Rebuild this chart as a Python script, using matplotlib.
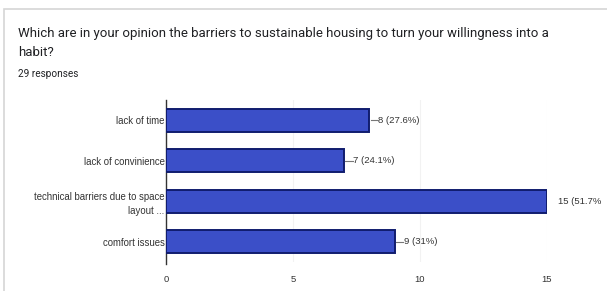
import matplotlib.pyplot as plt
from matplotlib.patches import Rectangle

# survey answers
categories = ["lack of time", "lack of convinience",
              "technical barriers due to space\nlayout ...", "comfort issues"]
counts = [8, 7, 15, 9]
labels = ["8 (27.6%)", "7 (24.1%)", "15 (51.7%", "9 (31%)"]
xticks = [0, 5, 10, 15]

title = "Which are in your opinion the barriers to sustainable housing to turn your willingness into a\nhabit?"
subtitle = "29 responses"

plt.rcParams["font.family"] = ["Roboto", "DejaVu Sans"]
chart_font = ["Liberation Sans", "DejaVu Sans"]

fig = plt.figure(figsize=(6.07, 2.91), dpi=100)

# card outline
fig.patches.append(Rectangle((4 / 607, -0.1), 1.2, 1 - 9 / 291 + 0.1,
                             transform=fig.transFigure, fill=False,
                             edgecolor="#d6d6d6", linewidth=1.2))

fig.text(18 / 607, 1 - 27 / 291, title, fontsize=9.5, color="#202124",
         va="top", ha="left", linespacing=1.55)
fig.text(18 / 607, 1 - 74 / 291, subtitle, fontsize=7.2, color="#202124",
         va="center", ha="left")

ax = fig.add_axes([166 / 607, 1 - 262 / 291, (547 - 166) / 607, 162 / 291])
ypos = list(range(len(categories)))
ax.barh(ypos, counts, height=0.57, color="#3b4fc8", edgecolor="#101c6e",
        linewidth=1.4, zorder=3)

for y, v, lab in zip(ypos, counts, labels):
    if v < max(counts):
        ax.plot([v + 0.06, v + 0.35], [y, y], color="#777777", lw=0.8,
                clip_on=False, zorder=4)
        ax.text(v + 0.36, y, lab, fontsize=6.8, color="#333333", va="center",
                ha="left", clip_on=False, family=chart_font)
    else:
        ax.text(v + 0.42, y, lab, fontsize=6.8, color="#333333", va="center",
                ha="left", clip_on=False, family=chart_font)

ax.set_ylim(3.5, -0.5)
ax.set_xlim(0, 15)
ax.set_yticks(ypos)
ax.set_yticklabels(categories, fontsize=6.9, color="#333333",
                   family=chart_font, linespacing=1.45)
ax.set_xticks(xticks)
ax.set_xticklabels([str(t) for t in xticks], fontsize=6.8, color="#333333",
                   family=chart_font)
ax.tick_params(axis="y", length=0, pad=1)
ax.tick_params(axis="x", length=0, pad=9)
ax.grid(axis="x", color="#f2f2f2", lw=0.8, zorder=0)
for s in ["top", "right", "bottom"]:
    ax.spines[s].set_visible(False)
ax.spines["left"].set_color("#333333")
ax.spines["left"].set_linewidth(1.0)
ax.spines["left"].set_bounds(-0.5, 3.55)

fig.savefig("out.png", dpi=100)
